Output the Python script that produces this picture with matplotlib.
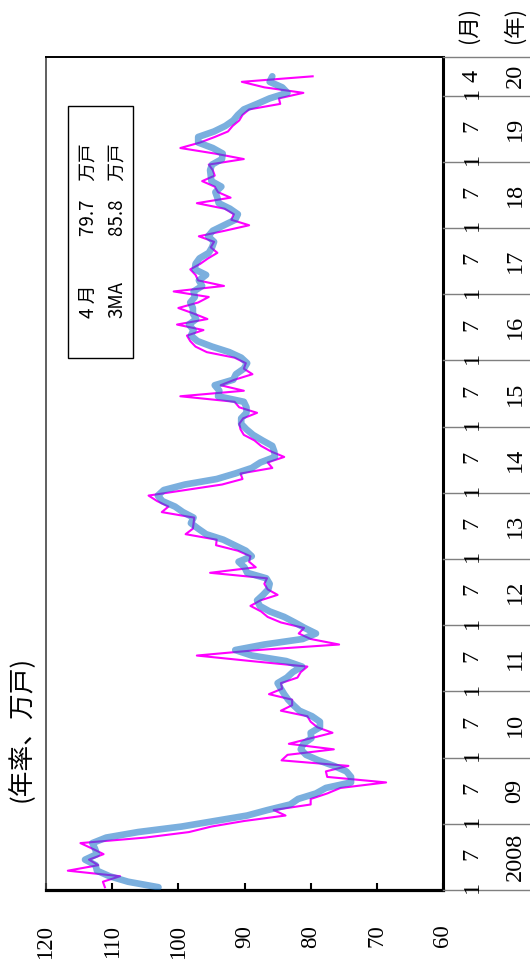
import numpy as np
import matplotlib
matplotlib.use("Agg")
import matplotlib.pyplot as plt
from matplotlib.patches import Rectangle
from matplotlib.lines import Line2D
from matplotlib.transforms import blended_transform_factory

# ── Data (monthly, Jan 2008 – Apr 2020, annualised, 万戸) ─────────────────────
monthly = [
    111.1, 111.4, 108.8, 116.7, 112.1, 113.5, 111.3, 113.0, 114.8, 105.0, 98.4, 95.0,
    90.1, 83.8, 85.6, 80.0, 80.0, 77.5, 75.5, 68.6, 77.5, 77.7, 74.3, 84.4,
    83.5, 76.5, 83.3, 80.0, 76.7, 79.0, 80.0, 80.5, 84.5, 82.8, 82.8, 86.3,
    84.3, 84.5, 82.0, 81.5, 80.5, 89.0, 97.2, 88.0, 75.7, 80.0, 81.8, 81.0,
    84.5, 86.5, 87.5, 89.1, 87.6, 85.0, 86.5, 87.0, 86.6, 95.2, 88.3, 89.3,
    89.1, 91.0, 94.3, 94.2, 98.9, 97.8, 97.7, 97.6, 102.5, 101.5, 103.2, 104.5,
    99.0, 93.4, 90.3, 90.6, 85.8, 86.5, 84.0, 86.0, 87.5, 88.5, 90.1, 90.6,
    90.8, 90.2, 88.1, 90.8, 91.5, 99.7, 90.1, 93.6, 91.5, 88.8, 90.1, 89.8,
    91.5, 95.7, 97.4, 98.2, 98.7, 96.2, 100.2, 95.6, 97.7, 100.0, 97.0, 95.4,
    100.7, 93.1, 97.0, 97.4, 98.2, 96.7, 95.5, 94.1, 95.1, 94.6, 96.9, 93.0,
    89.3, 92.0, 91.6, 93.0, 97.2, 92.1, 94.0, 94.5, 96.4, 94.5, 94.8, 95.4,
    90.1, 94.5, 99.7, 96.7, 94.5, 92.5, 91.8, 90.8, 90.3, 89.3, 84.6, 84.8,
    81.1, 87.0, 90.4, 79.7,
]
ma3 = [
    103.0, 107.6, 110.4, 112.3, 112.5, 114.1, 112.3, 112.6, 113.0, 110.9, 106.1, 99.5,
    94.5, 89.6, 86.5, 83.1, 81.9, 79.2, 77.7, 73.9, 73.9, 74.6, 76.5, 78.8,
    80.7, 81.5, 81.1, 79.9, 80.0, 78.6, 78.6, 79.8, 81.7, 82.6, 83.4, 84.0,
    84.5, 85.0, 83.6, 82.7, 81.3, 83.7, 88.9, 91.4, 87.0, 81.2, 79.2, 80.9,
    82.4, 84.0, 86.2, 87.7, 88.1, 87.2, 86.4, 86.2, 86.7, 89.6, 90.0, 90.9,
    88.9, 89.8, 91.5, 93.2, 95.8, 97.0, 98.1, 97.7, 99.3, 100.5, 102.4, 103.1,
    102.2, 99.0, 94.2, 91.4, 88.9, 87.6, 85.4, 85.5, 85.8, 87.3, 88.7, 89.7,
    90.5, 90.5, 89.7, 89.7, 90.1, 94.0, 93.8, 94.5, 91.7, 91.3, 90.1, 89.6,
    90.5, 92.3, 94.9, 97.1, 98.1, 97.7, 98.4, 97.3, 97.8, 97.8, 98.2, 97.5,
    97.7, 96.4, 96.9, 95.8, 97.5, 97.4, 96.8, 95.4, 94.9, 94.6, 95.5, 94.8,
    93.1, 91.4, 91.0, 92.2, 93.9, 94.1, 94.4, 93.5, 95.0, 95.1, 95.2, 94.9,
    93.4, 93.3, 94.8, 97.0, 97.0, 94.6, 92.9, 91.7, 91.0, 90.1, 88.1, 86.2,
    83.5, 84.3, 86.2, 85.8,
]
value_ticks = [120, 110, 100, 90, 80, 70, 60]
year_labels = ["2008", "09", "10", "11", "12", "13", "14", "15", "16", "17", "18", "19", "20"]
month_labels = ["1", "7"]
last_month_labels = ["1", "4"]

# ── Layout (pixel based, figure 530 x 968) ────────────────────────────────────
W, H = 530, 968
FRAME_L, FRAME_R, FRAME_T, FRAME_B = 46, 443, 57, 890
N_SPAN = 151  # months shown on time axis

FONT_CJK = ["Noto Sans CJK JP", "DejaVu Sans"]
FONT_NUM = ["Liberation Serif", "DejaVu Serif"]

def fx(px):
    return px / W

def fy(py):
    return 1 - py / H

fig = plt.figure(figsize=(W / 100, H / 100), dpi=100)
fig.patch.set_facecolor("white")
ax = fig.add_axes([fx(FRAME_L), fy(FRAME_B), fx(FRAME_R - FRAME_L),
                   (FRAME_B - FRAME_T) / H])

t = np.arange(len(monthly)) + 0.5
ax.plot(monthly, t, color="#FF00FF", lw=1.5, zorder=3)
ax.plot(ma3, t, color="#0F6EC3", alpha=0.55, lw=4.8, zorder=4,
        solid_capstyle="round", solid_joinstyle="round")

ax.set_xlim(120, 60)
ax.set_ylim(0, N_SPAN)
ax.set_yticks([])
ax.set_xticks(value_ticks)
ax.set_xticklabels([str(v) for v in value_ticks], rotation=90,
                   family=FONT_NUM, fontsize=16.5)
ax.tick_params(axis="x", direction="in", length=5, width=1.5, pad=25,
               colors="black")
for side, lw in (("bottom", 2.3), ("right", 2.2), ("top", 1.4), ("left", 1.2)):
    ax.spines[side].set_linewidth(lw)
ax.spines["left"].set_color("#444444")

# ── Time axis table on the right ─────────────────────────────────────────────
tr = blended_transform_factory(fig.transFigure, ax.transData)
n_years = len(year_labels)
bounds = [12 * k for k in range(n_years)] + [N_SPAN]
for b in bounds:
    fig.add_artist(Line2D([fx(FRAME_R), 1.0], [b, b], transform=tr,
                          color="#7F7F7F", lw=1.0))

for k, yl in enumerate(year_labels):
    start = 12 * k
    if k < n_years - 1:
        mlabs, offs = month_labels, [0.5, 6.5]
        mid = start + 6
    else:
        mlabs, offs = last_month_labels, [0.5, 3.5]
        mid = (start + N_SPAN) / 2
    for ml, off in zip(mlabs, offs):
        fig.text(fx(472), start + off, ml, transform=tr, rotation=90,
                 ha="center", va="center", family=FONT_NUM, fontsize=17.5)
    fig.text(fx(515), mid, yl, transform=tr, rotation=90,
             ha="center", va="center", family=FONT_NUM, fontsize=17.5)

fig.text(fx(469), fy(25), "(月)", rotation=90, ha="center", va="center",
         family=FONT_CJK, fontsize=15.5)
fig.text(fx(515), fy(25), "(年)", rotation=90, ha="center", va="center",
         family=FONT_CJK, fontsize=15.5)

# unit label
fig.text(fx(20), fy(802), "(年率、万戸)", rotation=90, ha="center", va="bottom",
         family=FONT_CJK, fontsize=18.5)

# ── Legend box ────────────────────────────────────────────────────────────────
fig.add_artist(Rectangle((fx(68), fy(358)), fx(133 - 68), (358 - 106) / H,
                         transform=fig.transFigure, facecolor="white",
                         edgecolor="black", lw=1.0, zorder=5))
legend_rows = [("4 月", monthly[-1], 88), ("3MA", ma3[-1], 117)]
for lab, val, xc in legend_rows:
    fig.text(fx(xc), fy(318), lab, rotation=90, ha="center", va="bottom",
             family=FONT_CJK, fontsize=13.5, zorder=6)
    fig.text(fx(xc), fy(236), f"{val:.1f}\u3000万戸", rotation=90,
             ha="center", va="bottom", family=FONT_CJK, fontsize=13.5, zorder=6)

fig.savefig("out.png", dpi=100, facecolor="white")
